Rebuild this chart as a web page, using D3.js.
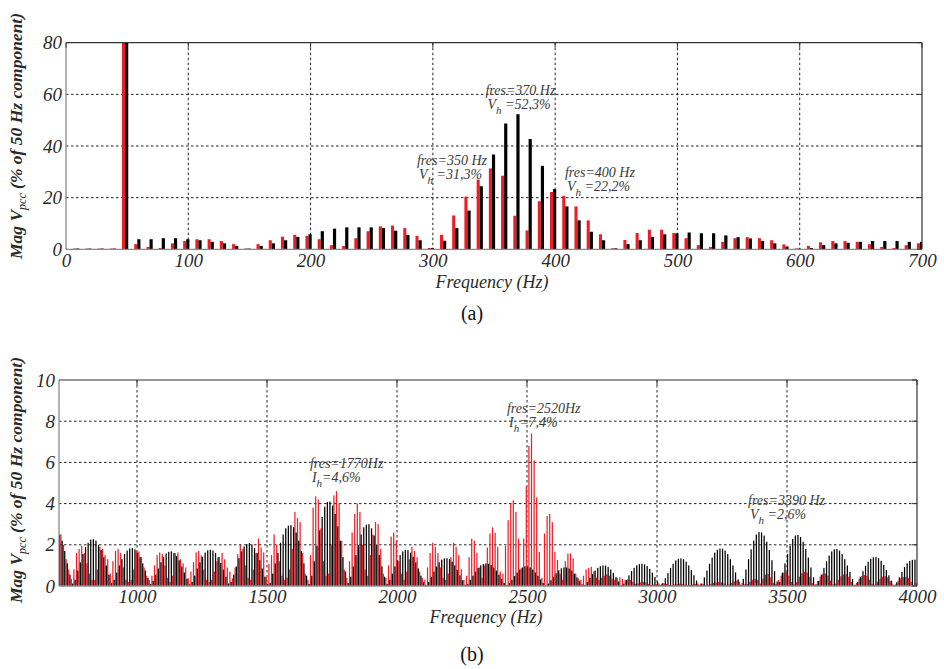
<!DOCTYPE html>
<html><head><meta charset="utf-8">
<script src="https://cdn.jsdelivr.net/npm/d3@7"></script>
<style>body{margin:0;background:#fff}</style>
</head><body>
<svg id="c" width="944" height="669"></svg>
<script>
// ---------- Panel (a) data : 0..700 Hz, step 10 Hz ----------
const freqA = d3.range(0, 701, 10);
const redA = [
 0.3,0.3,0.3,0.3,0.3,100,2.0,0.9,0.5,2.3,
 3.2,3.9,3.9,3.2,2.0,0.3,2.0,3.5,4.9,5.6,
 5.2,3.9,1.6,1.3,4.3,7.0,8.9,9.2,8.2,5.2,
 0.5,5.6,13.1,20.4,27.0,31.3,28.5,13.0,7.3,18.6,
 22.2,20.7,16.6,11.2,5.8,0.4,3.6,6.3,7.6,7.6,
 6.3,4.3,1.6,0.9,2.9,4.3,4.7,4.3,3.5,1.9,
 0.3,1.3,2.7,3.2,3.2,2.9,2.0,0.9,0.5,1.6,2.3];
const blackA = [
 0.3,0.3,0.3,0.3,0.3,100,3.9,3.9,4.3,4.3,
 3.9,3.5,2.9,2.3,1.3,0.3,1.3,2.3,3.5,4.8,
 5.8,7.0,8.0,8.5,8.5,8.5,8.2,7.2,5.6,3.5,
 0.5,3.3,8.2,15.0,24.4,36.7,48.7,52.3,42.7,32.3,
 23.3,16.6,11.2,6.8,3.5,0.4,2.0,3.5,4.8,5.8,
 6.2,6.5,6.2,6.2,5.4,4.7,4.2,3.2,2.3,1.1,
 0.3,0.5,1.6,2.3,2.5,2.9,3.2,3.2,3.2,2.9,2.9];
const xTicksA = [0,100,200,300,400,500,600,700];
const yTicksA = [0,20,40,60,80];

// ---------- Panel (b) data : 700..4000 Hz, step 10 Hz ----------
const freqB = d3.range(700, 4001, 10);
const redB = [
 2.6,2.5,2.0,1.3,0.8,0.35,0.8,1.6,1.8,1.95,
 1.6,1.1,0.6,0.3,0.3,0.8,1.9,1.8,1.5,1.3,
 0.6,1.2,1.7,1.8,1.6,0.9,0.3,0.2,0.3,0.8,
 1.7,1.67,1.4,0.9,0.5,0.3,0.5,1.0,1.5,1.63,
 1.55,1.0,0.4,0.2,0.5,1.6,1.63,1.3,1.1,0.9,
 0.37,0.7,1.16,1.63,1.7,1.48,0.8,0.3,0.2,0.3,
 0.7,1.2,1.4,1.6,1.3,0.9,0.7,0.37,0.9,1.55,
 2.0,1.8,1.0,0.4,0.3,0.8,1.6,2.3,1.87,1.63,
 0.44,1.08,1.5,2.5,2.0,1.2,0.5,0.3,0.4,0.8,
 1.8,3.6,3.3,3.1,1.6,0.6,0.3,1.5,3.8,4.35,
 4.2,2.8,1.2,0.5,0.6,2.0,4.4,4.6,4.0,2.2,
 0.8,0.4,1.2,2.6,3.5,4.0,3.6,2.0,0.8,0.5,
 1.5,2.5,3.1,3.0,1.8,0.6,0.4,1.0,2.4,2.6,
 2.2,1.2,0.6,0.3,0.7,1.3,1.9,1.7,1.4,0.7,
 0.4,0.3,0.9,1.6,2.1,1.9,1.6,0.9,0.4,0.3,
 0.6,1.4,2.1,1.9,1.5,0.8,0.3,0.5,1.4,2.3,
 2.2,1.6,0.9,0.4,1.0,1.87,2.55,2.84,2.58,1.9,
 0.7,0.6,1.95,3.2,4.0,4.16,3.6,2.3,0.85,2.3,
 4.84,6.8,7.4,6.1,4.3,1.66,0.4,2.55,3.4,3.5,
 3.1,1.66,1.26,0.6,0.3,1.2,1.58,1.58,1.34,0.6,
 0.37,0.3,0.5,0.8,0.88,0.93,0.72,0.4,0.3,0.4,
 0.5,0.56,0.5,0.35,0.3,0.4,0.42,0.35,0.3,0.32,
 0.3,0.2,0.1,0.12,0.18,0.2,0.18,0.1,0.05,0.08,
 0.1,0.12,0.1,0.12,0.1,0.05,0.05,0.08,0.1,0.12,
 0.1,0.08,0.05,0.05,0.08,0.1,0.12,0.12,0.1,0.05,
 0.06,0.1,0.15,0.18,0.2,0.18,0.12,0.06,0.08,0.15,
 0.22,0.26,0.22,0.15,0.08,0.1,0.2,0.3,0.35,0.3,
 0.12,0.35,0.55,0.58,0.42,0.15,0.1,0.3,0.5,0.65,
 0.69,0.5,0.2,0.08,0.2,0.45,0.62,0.69,0.65,0.45,
 0.15,0.08,0.25,0.45,0.58,0.61,0.5,0.25,0.08,0.12,
 0.3,0.48,0.56,0.58,0.45,0.2,0.06,0.15,0.35,0.48,
 0.53,0.5,0.3,0.1,0.06,0.2,0.35,0.45,0.48,0.42,
 0.25,0.08,0.08,0.25,0.38,0.44,0.45,0.38,0.2,0.06,
 0.15];
const blackB = [
 2.5,2.2,1.7,1.1,0.55,0.12,0.3,0.75,1.15,1.55,
 1.9,2.1,2.25,2.27,2.2,2.0,1.75,1.4,1.0,0.55,
 0.15,0.3,0.65,1.0,1.3,1.55,1.72,1.82,1.84,1.78,
 1.62,1.4,1.1,0.75,0.4,0.1,0.25,0.55,0.85,1.15,
 1.4,1.58,1.66,1.68,1.6,1.45,1.25,0.95,0.65,0.35,
 0.08,0.2,0.5,0.85,1.15,1.42,1.62,1.73,1.76,1.72,
 1.6,1.4,1.12,0.8,0.45,0.12,0.2,0.55,0.95,1.35,
 1.68,1.92,2.04,2.08,2.02,1.85,1.6,1.25,0.85,0.45,
 0.1,0.15,0.6,1.1,1.6,2.1,2.5,2.8,2.93,2.95,
 2.85,2.6,2.2,1.7,1.1,0.5,0.1,0.5,1.2,1.95,
 2.7,3.35,3.85,4.08,4.1,3.9,3.5,2.9,2.2,1.4,
 0.7,0.15,0.45,0.95,1.5,2.0,2.5,2.85,2.98,3.0,
 2.8,2.45,2.0,1.5,0.95,0.45,0.1,0.3,0.6,0.95,
 1.25,1.5,1.68,1.75,1.74,1.62,1.42,1.15,0.85,0.5,
 0.2,0.05,0.2,0.45,0.7,0.95,1.15,1.28,1.34,1.35,
 1.3,1.18,1.0,0.78,0.52,0.28,0.06,0.1,0.3,0.5,
 0.7,0.88,1.0,1.07,1.1,1.08,1.02,0.9,0.75,0.55,
 0.35,0.15,0.03,0.15,0.3,0.48,0.65,0.8,0.9,0.95,
 0.95,0.9,0.8,0.66,0.5,0.32,0.15,0.03,0.12,0.28,
 0.45,0.62,0.76,0.86,0.9,0.9,0.85,0.75,0.6,0.42,
 0.25,0.08,0.05,0.2,0.4,0.58,0.75,0.88,0.96,1.0,
 0.99,0.92,0.8,0.63,0.43,0.22,0.05,0.12,0.3,0.52,
 0.72,0.88,1.0,1.06,1.08,1.05,0.97,0.83,0.65,0.44,
 0.22,0.05,0.15,0.38,0.62,0.88,1.08,1.24,1.32,1.34,
 1.3,1.18,1.0,0.78,0.52,0.27,0.05,0.12,0.42,0.75,
 1.08,1.38,1.62,1.76,1.82,1.81,1.72,1.55,1.3,1.0,
 0.66,0.32,0.06,0.35,0.8,1.3,1.78,2.2,2.5,2.62,
 2.6,2.45,2.15,1.75,1.25,0.72,0.22,0.2,0.65,1.1,
 1.55,1.95,2.28,2.45,2.48,2.38,2.15,1.8,1.38,0.9,
 0.42,0.08,0.25,0.55,0.88,1.2,1.48,1.68,1.78,1.8,
 1.72,1.55,1.3,1.0,0.68,0.35,0.06,0.2,0.45,0.72,
 0.98,1.18,1.32,1.39,1.4,1.35,1.22,1.02,0.78,0.52,
 0.26,0.05,0.18,0.42,0.68,0.92,1.1,1.22,1.27,1.28,
 1.25];
const xTicksB = [1000,1500,2000,2500,3000,3500,4000];
const yTicksB = [0,2,4,6,8,10];

// annotation texts
const annA = [
  {f:287, v:32.8, l1:"fres=350 Hz", sym:"V", sub:"h", rest:" =31,3%"},
  {f:343, v:59.8, l1:"fres=370 Hz", sym:"V", sub:"h", rest:" =52,3%"},
  {f:408, v:28.0, l1:"fres=400 Hz", sym:"V", sub:"h", rest:" =22,2%"}
];
const annB = [
  {f:1665, v:5.73, l1:"fres=1770Hz", sym:"I", sub:"h", rest:"=4,6%"},
  {f:2423, v:8.4,  l1:"fres=2520Hz", sym:"I", sub:"h", rest:"=7,4%"},
  {f:3350, v:3.93, l1:"fres=3390 Hz", sym:"V", sub:"h", rest:" =2,6%"}
];

const RED = "#ee1c25";
const FONT = "'Liberation Serif','Times New Roman',serif";
const svg = d3.select("#c");

function panel(cfg){
  const {id,x0,x1,yTop,yBot,xDom,yDom,xTicks,yTicks,gridX,gridY,freq,red,black,
         redOff,blackOff,ann,titleY,capY,cap,ylabCenter} = cfg;
  const x = d3.scaleLinear().domain(xDom).range([x0,x1]);
  const y = d3.scaleLinear().domain(yDom).range([yBot,yTop]);
  const g = svg.append("g");
  g.append("clipPath").attr("id",id).append("rect")
    .attr("x",x0).attr("y",yTop).attr("width",x1-x0).attr("height",yBot-yTop);

  // grid
  g.selectAll(null).data(gridX).enter().append("line")
    .attr("x1",d=>x(d)).attr("x2",d=>x(d)).attr("y1",yTop).attr("y2",yBot)
    .attr("stroke","#222").attr("stroke-width",1).attr("stroke-dasharray","2.5,2.5");
  g.selectAll(null).data(gridY).enter().append("line")
    .attr("x1",x0).attr("x2",x1).attr("y1",d=>y(d)).attr("y2",d=>y(d))
    .attr("stroke","#222").attr("stroke-width",1).attr("stroke-dasharray","2.5,2.5");

  const bars = g.append("g").attr("clip-path",`url(#${id})`);
  const rows = freq.map((f,i)=>({f, r:red[i], b:black[i]}));
  bars.selectAll(".r").data(rows).enter().append("rect")
    .attr("x",d=>x(d.f+redOff[0])).attr("width",d=>x(d.f+redOff[1])-x(d.f+redOff[0]))
    .attr("y",d=>y(d.r)).attr("height",d=>yBot-y(d.r)).attr("fill",RED);
  bars.selectAll(".b").data(rows).enter().append("rect")
    .attr("x",d=>x(d.f+blackOff[0])).attr("width",d=>x(d.f+blackOff[1])-x(d.f+blackOff[0]))
    .attr("y",d=>y(d.b)).attr("height",d=>yBot-y(d.b)).attr("fill","#000");

  // frame
  g.append("line").attr("x1",x0).attr("x2",x0).attr("y1",yTop).attr("y2",yBot).attr("stroke","#8a8a8a").attr("stroke-width",1.3);
  g.append("line").attr("x1",x0).attr("x2",x1).attr("y1",yBot).attr("y2",yBot).attr("stroke","#8a8a8a").attr("stroke-width",1.3);
  g.append("line").attr("x1",x0).attr("x2",x1).attr("y1",yTop).attr("y2",yTop).attr("stroke","#333").attr("stroke-width",1.2);
  g.append("line").attr("x1",x1).attr("x2",x1).attr("y1",yTop).attr("y2",yBot).attr("stroke","#333").attr("stroke-width",1.2);
  g.selectAll(null).data(yTicks).enter().append("line")
    .attr("x1",x1-5).attr("x2",x1).attr("y1",d=>y(d)).attr("y2",d=>y(d)).attr("stroke","#333");
  g.selectAll(null).data(xTicks).enter().append("line")
    .attr("x1",d=>x(d)).attr("x2",d=>x(d)).attr("y1",yTop).attr("y2",yTop+5).attr("stroke","#333");

  const ax = d3.axisBottom(x).tickValues(xTicks).tickSize(0).tickPadding(4).tickFormat(d3.format("d"));
  const axG = g.append("g").attr("transform",`translate(0,${yBot})`).call(ax);
  axG.select(".domain").remove();
  axG.selectAll("text").attr("font-family",FONT).attr("font-style","italic")
    .attr("font-size",19).attr("fill","#2a2a2a");
  const ay = d3.axisLeft(y).tickValues(yTicks).tickSize(0).tickPadding(4).tickFormat(d3.format("d"));
  const ayG = g.append("g").attr("transform",`translate(${x0},0)`).call(ay);
  ayG.select(".domain").remove();
  ayG.selectAll("text").attr("font-family",FONT).attr("font-style","italic")
    .attr("font-size",19).attr("fill","#2a2a2a");

  ann.forEach(a=>{
    g.append("text").attr("x",x(a.f)).attr("y",y(a.v))
      .attr("font-family",FONT).attr("font-style","italic").attr("font-size",14).attr("fill","#3a3a3a")
      .text(a.l1);
    const t2 = g.append("text").attr("x",x(a.f)+2).attr("y",y(a.v)+14)
      .attr("font-family",FONT).attr("font-style","italic").attr("font-size",14).attr("fill","#3a3a3a");
    t2.append("tspan").text(a.sym);
    t2.append("tspan").attr("dy",5).attr("font-size",11).text(a.sub);
    t2.append("tspan").attr("dy",-5).text(a.rest);
  });

  g.append("text").attr("x",(x0+x1)/2-2).attr("y",titleY).attr("text-anchor","middle")
    .attr("font-family",FONT).attr("font-style","italic").attr("font-size",18).attr("fill","#2a2a2a")
    .text("Frequency (Hz)");
  const yt = g.append("text").attr("transform",`translate(22,${ylabCenter}) rotate(-90)`)
    .attr("text-anchor","middle").attr("font-family",FONT).attr("font-style","italic")
    .attr("font-weight","bold").attr("font-size",17.5).attr("fill","#2a2a2a");
  yt.append("tspan").text("Mag V");
  yt.append("tspan").attr("dy",4).attr("font-size",12).attr("font-weight","normal").text("pcc");
  yt.append("tspan").attr("dy",-4).text(" (% of 50 Hz component)");
  g.append("text").attr("x",472).attr("y",capY).attr("text-anchor","middle")
    .attr("font-family",FONT).attr("font-size",20).attr("fill","#111").text(cap);
}

panel({id:"ca",x0:66,x1:922,yTop:42.7,yBot:249.3,xDom:[0,700],yDom:[0,80],
  xTicks:xTicksA,yTicks:yTicksA,gridX:[100,200,300,400,500,600],gridY:[20,40,60],
  freq:freqA,red:redA,black:blackA,redOff:[-4.2,-1.7],blackOff:[-1.7,0.9],
  ann:annA,titleY:288,capY:320,cap:"(a)",ylabCenter:136});

panel({id:"cb",x0:59,x1:917,yTop:380,yBot:586,xDom:[700,4000],yDom:[0,10],
  xTicks:xTicksB,yTicks:yTicksB,gridX:[1000,1500,2000,2500,3000,3500],gridY:[2,4,6,8],
  freq:freqB,red:redB,black:blackB,redOff:[-5,-0.3],blackOff:[-0.3,4.5],
  ann:annB,titleY:623,capY:661,cap:"(b)",ylabCenter:480});
</script>
</body></html>
